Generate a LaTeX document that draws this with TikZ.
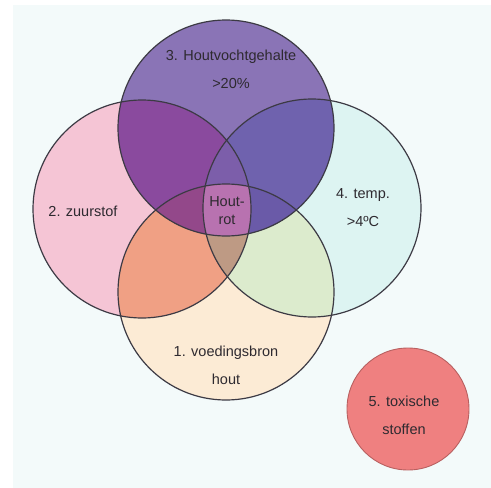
\documentclass[tikz,border=0pt]{standalone}
\usepackage{fontspec}
\setmainfont{Liberation Sans}
\definecolor{bgc}{HTML}{F3FAFA}
\definecolor{cA}{HTML}{FCEBD5}
\definecolor{cB}{HTML}{F5C5D5}
\definecolor{cC}{HTML}{8A74B6}
\definecolor{cD}{HTML}{DDF4F2}
\definecolor{cAB}{HTML}{F0A084}
\definecolor{cAD}{HTML}{DCEBCD}
\definecolor{cBC}{HTML}{8A4A9E}
\definecolor{cCD}{HTML}{6F62AE}
\definecolor{cAC}{HTML}{8A60A8}
\definecolor{cBD}{HTML}{B88AA0}
\definecolor{cABC}{HTML}{93488A}
\definecolor{cACD}{HTML}{6A5AA8}
\definecolor{cBCD}{HTML}{7C5EAA}
\definecolor{cABD}{HTML}{BE9A84}
\definecolor{cALL}{HTML}{B872B0}
\definecolor{cE}{HTML}{EF8080}
\definecolor{cEline}{HTML}{B86060}
\definecolor{linec}{HTML}{3C3A44}
\definecolor{textc}{HTML}{2E2A30}
\def\cA{(226,292) circle[radius=108pt]}
\def\cB{(142,209) circle[radius=109pt]}
\def\cC{(226,128) circle[radius=108pt]}
\def\cD{(312,208) circle[radius=109pt]}
\begin{document}
\begin{tikzpicture}[x=1pt,y=-1pt,
  lab/.style={font=\fontsize{14.5}{28}\selectfont, align=center, text=textc, inner sep=0pt},
  labsmall/.style={font=\fontsize{14.5}{18}\selectfont, align=center, text=textc, inner sep=0pt},
  ring/.style={draw=linec, line width=1.2pt}]
\useasboundingbox (0,0) rectangle (491,488);
\fill[white] (0,0) rectangle (491,488);
\fill[bgc] (13,5) rectangle (491,488);
% single circles
\fill[cA] \cA;
\fill[cB] \cB;
\fill[cD] \cD;
\fill[cC] \cC;
% pairs
\begin{scope}\clip \cA; \fill[cAB] \cB; \end{scope}
\begin{scope}\clip \cA; \fill[cAD] \cD; \end{scope}
\begin{scope}\clip \cB; \fill[cBC] \cC; \end{scope}
\begin{scope}\clip \cC; \fill[cCD] \cD; \end{scope}
\begin{scope}\clip \cA; \fill[cAC] \cC; \end{scope}
\begin{scope}\clip \cB; \fill[cBD] \cD; \end{scope}
% triples
\begin{scope}\clip \cA; \clip \cB; \fill[cABC] \cC; \end{scope}
\begin{scope}\clip \cA; \clip \cC; \fill[cACD] \cD; \end{scope}
\begin{scope}\clip \cB; \clip \cC; \fill[cBCD] \cD; \end{scope}
\begin{scope}\clip \cA; \clip \cB; \fill[cABD] \cD; \end{scope}
% all four
\begin{scope}\clip \cA; \clip \cB; \clip \cC; \fill[cALL] \cD; \end{scope}
% outlines
\draw[ring] \cA;
\draw[ring] \cB;
\draw[ring] \cC;
\draw[ring] \cD;
% circle 5
\draw[fill=cE, draw=cEline, line width=0.9pt] (408,409) circle[radius=61pt];
% labels
\node[lab] (l3) at (231,69) {3. Houtvochtgehalte\\>20\%};
\node[lab] (l2) at (83,211) {2. zuurstof};
\node[labsmall] (l0) at (227,211) {Hout-\\rot};
\node[lab] (l4) at (363,208) {4. temp.\\>4ºC};
\node[lab] (l1) at (226,365) {1. voedingsbron\\hout};
\node[lab] (l5) at (404,415) {5. toxische\\stoffen};
\end{tikzpicture}
\end{document}
